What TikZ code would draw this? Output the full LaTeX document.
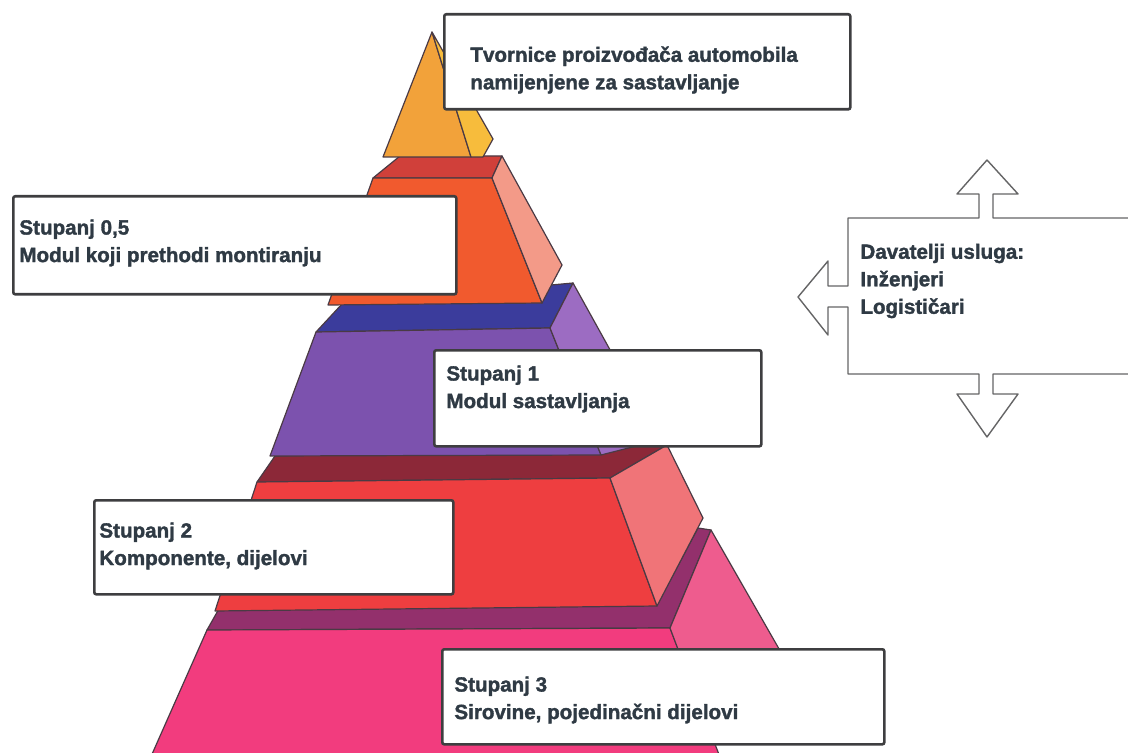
\documentclass[tikz,border=0pt]{standalone}
\usepackage{fontspec}
\setmainfont{Liberation Sans}[BoldFeatures={FakeBold=1.6}]

% 颜色
\definecolor{edgecol}{HTML}{4A3A44}
\definecolor{boxcol}{HTML}{3E3E40}
\definecolor{txtcol}{HTML}{2F3A44}
\definecolor{tipfront}{HTML}{F2A23A}
\definecolor{tipside}{HTML}{F7BC3C}
\definecolor{capA}{HTML}{D0403A}
\definecolor{frontA}{HTML}{F15A2E}
\definecolor{sideA}{HTML}{F39A88}
\definecolor{capB}{HTML}{3B3C9C}
\definecolor{frontB}{HTML}{7C52AE}
\definecolor{sideB}{HTML}{9C6CC2}
\definecolor{capC}{HTML}{8C2838}
\definecolor{frontC}{HTML}{EE3E40}
\definecolor{sideC}{HTML}{F07478}
\definecolor{capD}{HTML}{93306C}
\definecolor{frontD}{HTML}{F23C7E}
\definecolor{sideD}{HTML}{EE5C8E}

\begin{document}
\begin{tikzpicture}[
    x=0.5pt, y=-0.5pt,
    % 定义样式
    face/.style={draw=edgecol, line width=0.6pt, line join=round, fill=#1},
    stupbox/.style={draw=boxcol, line width=1.3pt, fill=white, rounded corners=1pt,
        anchor=north west, inner sep=0pt},
    stuptext/.style={anchor=west, inner sep=0pt, align=left, text=txtcol,
        font=\fontsize{10.3}{13.75}\selectfont\bfseries},
    callout/.style={draw=boxcol!80, line width=0.7pt, fill=white, line join=round}
]

% --- 画布 ---
\useasboundingbox (0,0) rectangle (1128,753);
\clip (0,0) rectangle (1128,753);

% --- 绘制金字塔 (从下往上) ---

% 1. 第 3 层
\draw[face=capD] (220,607) -- (657,605) -- (698,528) -- (711,530) -- (670,628) -- (207,630) -- cycle;
\draw[face=frontD] (207,630) -- (670,628) -- (725,770) -- (145,770) -- cycle;
\draw[face=sideD] (670,628) -- (711,530) -- (830,738) -- (713,742) -- cycle;

% 2. 第 2 层
\draw[face=capC] (275,456) -- (667,445) -- (610,478) -- (257,482) -- cycle;
\draw[face=frontC] (257,482) -- (610,478) -- (657,606) -- (215,611) -- cycle;
\draw[face=sideC] (610,478) -- (667,445) -- (703,518) -- (657,606) -- cycle;

% 3. 第 1 层
\draw[face=capB] (342,304) -- (573,283) -- (550,328) -- (316,332) -- cycle;
\draw[face=frontB] (316,332) -- (550,328) -- (601,455) -- (270,456) -- cycle;
\draw[face=sideB] (550,328) -- (573,283) -- (660,440) -- (601,455) -- cycle;

% 4. 第 0,5 层
\draw[face=capA] (400,156) -- (502,156) -- (492,178) -- (373,178) -- cycle;
\draw[face=frontA] (373,178) -- (492,178) -- (542,303) -- (328,305) -- cycle;
\draw[face=sideA] (492,178) -- (502,156) -- (562,265) -- (542,303) -- cycle;

% 5. 顶部
\draw[face=tipfront] (432,32) -- (471,157) -- (383,157) -- cycle;
\draw[face=tipside] (432,32) -- (493,139) -- (483,157) -- (471,157) -- cycle;

% --- 说明框 ---
\node[stupbox, minimum width=203pt, minimum height=47.5pt] (tvornice) at (443,13) {};
\node[stuptext] (tvornice-t) at (470,70) {Tvornice proizvođača automobila\\namijenjene za sastavljanje};

\node[stupbox, minimum width=221.5pt, minimum height=49pt] (stup05) at (12,195) {};
\node[stuptext] (stup05-t) at (19,243) {Stupanj 0,5\\Modul koji prethodi montiranju};

\node[stupbox, minimum width=163.5pt, minimum height=48pt] (stup1) at (433,349) {};
\node[stuptext] (stup1-t) at (446,389) {Stupanj 1\\Modul sastavljanja};

\node[stupbox, minimum width=179.5pt, minimum height=47pt] (stup2) at (93,499) {};
\node[stuptext] (stup2-t) at (99,546) {Stupanj 2\\Komponente, dijelovi};

\node[stupbox, minimum width=221pt, minimum height=47.5pt] (stup3) at (441,648) {};
\node[stuptext] (stup3-t) at (454,700) {Stupanj 3\\Sirovine, pojedinačni dijelovi};

% --- 服务提供者 (带三个箭头) ---
\draw[callout] (1140,218) -- (993,218) -- (993,194) -- (1018,194) -- (987,160)
    -- (957,194) -- (979,194) -- (979,218) -- (848,218) -- (848,286) -- (828,286)
    -- (828,261) -- (798,297) -- (828,335) -- (828,307) -- (848,307) -- (848,374)
    -- (979,374) -- (979,394) -- (957,394) -- (987,437) -- (1018,394) -- (993,394)
    -- (993,374) -- (1140,374);
\node[stuptext] (usluge) at (860,281) {Davatelji usluga:\\Inženjeri\\Logističari};

\end{tikzpicture}
\end{document}
